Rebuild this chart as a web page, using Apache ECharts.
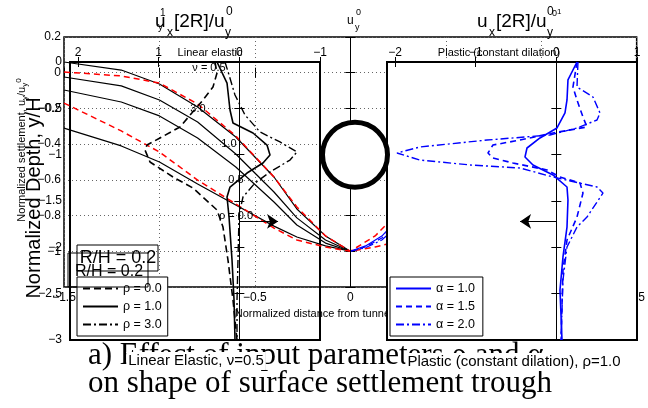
<!DOCTYPE html>
<html>
<head>
<meta charset="utf-8">
<script src="https://cdn.jsdelivr.net/npm/echarts@6/dist/echarts.min.js"></script>
<style>
  html, body { margin: 0; padding: 0; background: #fff; }
  #main { width: 648px; height: 408px; }
</style>
</head>
<body>
<div id="main"></div>
<script>
// ---------- Surface settlement troughs (normalized settlement vs x/H) ----------
const troughX = [-1.5, -1.2, -1.0, -0.8, -0.6, -0.4, -0.28, -0.13, 0];
const troughRho30 = [0.06, 0.015, -0.063, -0.192, -0.360, -0.584, -0.763, -0.914, -1.0];
const troughRho10 = [-0.024, -0.074, -0.153, -0.276, -0.455, -0.668, -0.813, -0.937, -1.0];
const troughRho05 = [-0.097, -0.164, -0.242, -0.366, -0.528, -0.724, -0.853, -0.954, -1.0];
const troughRho00 = [-0.310, -0.410, -0.500, -0.623, -0.741, -0.859, -0.920, -0.970, -1.0];

const redX = [-1.5, -1.2, -1.0, -0.8, -0.6, -0.4, -0.28, -0.13, 0, 0.13, 0.28, 0.4, 0.6, 0.8, 1.0, 1.2, 1.5];
const redUpper = [0.004, -0.018, -0.058, -0.175, -0.354, -0.584, -0.752, -0.914, -1.0, -0.914, -0.752, -0.584, -0.354, -0.175, -0.058, -0.018, 0.004];
const redLower = [-0.170, -0.326, -0.444, -0.601, -0.735, -0.870, -0.937, -0.976, -1.0, -0.976, -0.937, -0.870, -0.735, -0.601, -0.444, -0.326, -0.170];

const blueX = [0, 0.08, 0.165, 0.4, 0.6, 0.8, 1.0, 1.2, 1.5];
const blueA10 = [-1.0, -0.97, -0.915, -0.65, -0.42, -0.24, -0.12, -0.05, -0.01];
const blueA15 = [-1.0, -0.975, -0.926, -0.68, -0.45, -0.27, -0.14, -0.06, -0.02];
const blueA20 = [-1.0, -0.98, -0.937, -0.71, -0.48, -0.30, -0.16, -0.08, -0.03];

// ---------- Linear elastic: horizontal displacement profiles at x = 2R ----------
const elasticDepthRho0 = [0, -0.119, -0.270, -0.410, -0.701, -0.820, -0.896, -0.950, -1.079, -1.241, -1.360, -1.597, -1.781, -2.137, -2.568, -3.0];
const elasticUxRho0 = [0.302, 0.277, 0.327, 0.451, 0.736, 0.984, 1.145, 1.170, 1.108, 0.823, 0.575, 0.277, 0.203, 0.141, 0.079, 0.029];
const elasticDepthRho1 = [0, -0.227, -0.518, -0.658, -0.766, -0.896, -1.004, -1.090, -1.198, -1.349, -1.457, -1.673, -2.137, -2.568, -3.0];
const elasticUxRho1 = [0.277, 0.153, 0.116, 0.079, -0.169, -0.343, -0.380, -0.293, -0.095, 0.116, 0.153, 0.128, 0.091, 0.066, 0.054];
const elasticDepthRho3 = [0, -0.140, -0.356, -0.572, -0.755, -0.863, -0.971, -1.058, -1.187, -1.306, -1.457, -1.651, -2.137, -2.568, -3.0];
const elasticUxRho3 = [0.178, 0.128, 0.054, -0.070, -0.256, -0.504, -0.715, -0.628, -0.380, -0.194, -0.045, 0.004, 0.017, 0.029, 0.029];

// ---------- Plastic (constant dilation): horizontal displacement profiles ----------
const plasticDepthA10 = [0, -0.194, -0.410, -0.550, -0.712, -0.820, -0.928, -1.025, -1.111, -1.219, -1.349, -1.489, -1.781, -2.104, -2.460, -3.0];
const plasticUxA10 = [0.256, 0.144, 0.132, 0.107, 0.008, -0.203, -0.364, -0.389, -0.290, -0.042, 0.132, 0.144, 0.132, 0.082, 0.045, 0.070];
const plasticDepthA15 = [0, -0.270, -0.410, -0.594, -0.701, -0.766, -0.842, -0.896, -0.982, -1.036, -1.090, -1.165, -1.241, -1.306, -1.414, -1.673, -1.921, -2.245, -3.0];
const plasticUxA15 = [0.256, 0.206, 0.256, 0.330, 0.380, -0.042, -0.451, -0.786, -0.848, -0.786, -0.538, -0.116, 0.045, 0.293, 0.330, 0.256, 0.132, 0.082, 0.058];
const plasticDepthA20 = [0, -0.270, -0.378, -0.550, -0.626, -0.712, -0.788, -0.842, -0.917, -0.982, -1.058, -1.111, -1.144, -1.241, -1.349, -1.414, -1.673, -1.781, -1.996, -2.353, -3.0];
const plasticUxA20 = [0.268, 0.256, 0.454, 0.541, 0.504, 0.256, -0.079, -0.860, -1.691, -1.976, -1.691, -1.071, -0.451, -0.042, 0.504, 0.578, 0.380, 0.256, 0.132, 0.082, 0.058];

// Direction arrows (depth, tip displacement) and tunnel centre depth
const arrowDepth = -1.72;
const arrowTipElastic = -0.48;
const arrowTipPlastic = -0.45;
const tunnelCentre = [0, -1];

// Tick labels for the displacement axes
const elasticTicks = [-1, 0, 1, 2];
const plasticTicks = [-2, -1, 0, 1];

const FONT = '"Liberation Sans", Arial, Helvetica, sans-serif';
const SERIF = '"Liberation Serif", "Times New Roman", serif';

const zip = (xs, ys) => xs.map((x, i) => [x, ys[i]]);
const fmt = v => {
  const s = String(parseFloat(Number(v).toFixed(2)));
  return s.replace('-', '\u2212');
};

const DOT = { color: '#666', width: 1, type: [1, 3] };
const DASH = [6, 4];
const DASHDOT = [8, 3, 2, 3];

function line(name, data, xi, yi, color, type, width, z) {
  return {
    type: 'line', name, data, xAxisIndex: xi, yAxisIndex: yi,
    symbol: 'none', showSymbol: false, smooth: false, z,
    lineStyle: { color, type, width },
    itemStyle: { color },
    emphasis: { disabled: true }
  };
}

const tickOnly = (extra) => Object.assign({
  axisLine: { show: false },
  axisLabel: { show: false },
  axisTick: { show: true, inside: true, length: 5, lineStyle: { color: '#000' } },
  splitLine: { show: false }
}, extra);

// plain text element; opts may carry style overrides and element props (z, rotation)
function txt(text, x, y, size, opts) {
  const o = opts || {};
  const style = Object.assign({
    text, fontSize: size, fontFamily: FONT, fill: '#000',
    align: 'left', verticalAlign: 'middle', textAlign: 'left', textVerticalAlign: 'middle'
  }, o.style || {});
  const el = { type: 'text', x, y, z: 30, silent: true, style };
  Object.keys(o).forEach(k => { if (k !== 'style') el[k] = o[k]; });
  return el;
}
function ctxt(text, x, y, size, opts) {
  const o = Object.assign({}, opts || {});
  o.style = Object.assign({ align: 'center', textAlign: 'center' }, o.style || {});
  return txt(text, x, y, size, o);
}

const chart = echarts.init(document.getElementById('main'), null, { renderer: 'canvas' });

const legendBase = {
  orient: 'vertical', top: 277,
  itemWidth: 35, itemHeight: 12, itemGap: 5,
  backgroundColor: '#fff', borderColor: '#000', borderWidth: 1, borderRadius: 0,
  selectedMode: false, z: 20,
  itemStyle: { opacity: 0 },
  textStyle: { fontSize: 12.5, color: '#000', fontFamily: FONT }
};

const option = {
  animation: false,
  backgroundColor: '#fff',
  textStyle: { fontFamily: FONT },
  grid: [
    // 0: settlement trough
    { left: 64, top: 37, width: 582, height: 250, show: true, borderColor: '#000', borderWidth: 1.5, backgroundColor: 'transparent', z: 0 },
    // 1: linear elastic profile
    { left: 70, top: 62, width: 250, height: 278, show: true, borderColor: '#000', borderWidth: 2, backgroundColor: 'transparent', z: 1 },
    // 2: plastic profile (opaque panel)
    { left: 387, top: 62, width: 250, height: 278, show: true, borderColor: '#000', borderWidth: 2, backgroundColor: '#fff', z: 3 },
    // 3: tunnel cross-section
    { left: 320, top: 62, width: 70, height: 278, show: false, z: 4 }
  ],
  xAxis: [
    { type: 'value', gridIndex: 0, min: -1.5, max: 1.5, interval: 0.5, position: 'bottom', z: 0,
      axisLine: { show: false },
      axisTick: { show: true, inside: true, length: 5, lineStyle: { color: '#000' } },
      axisLabel: { show: true, margin: 5, fontSize: 12, color: '#000', fontFamily: FONT, formatter: fmt },
      splitLine: { show: true, lineStyle: DOT },
      name: 'Normalized distance from tunnel centerline, x/H', nameLocation: 'middle', nameGap: 19,
      nameTextStyle: { fontSize: 11, color: '#000', fontFamily: FONT } },
    tickOnly({ type: 'value', gridIndex: 0, min: -1.5, max: 1.5, interval: 0.5, position: 'top', z: 0 }),
    { type: 'value', gridIndex: 1, min: -1, max: 2.1, interval: 1, inverse: true, position: 'top', z: 2,
      axisLine: { show: false },
      axisTick: { show: true, inside: true, length: 5, lineStyle: { color: '#000' }, customValues: elasticTicks },
      axisLabel: { show: true, margin: 3, fontSize: 12, color: '#000', fontFamily: FONT, formatter: fmt, customValues: elasticTicks },
      splitLine: { show: false } },
    tickOnly({ type: 'value', gridIndex: 1, min: -1, max: 2.1, inverse: true, position: 'bottom', z: 2,
      axisTick: { show: true, inside: true, length: 5, lineStyle: { color: '#000' }, customValues: elasticTicks } }),
    { type: 'value', gridIndex: 2, min: -2.1, max: 1, position: 'top', z: 4,
      axisLine: { show: false },
      axisTick: { show: true, inside: true, length: 5, lineStyle: { color: '#000' }, customValues: plasticTicks },
      axisLabel: { show: true, margin: 3, fontSize: 12, color: '#000', fontFamily: FONT, formatter: fmt, customValues: plasticTicks },
      splitLine: { show: false } },
    tickOnly({ type: 'value', gridIndex: 2, min: -2.1, max: 1, position: 'bottom', z: 4,
      axisTick: { show: true, inside: true, length: 5, lineStyle: { color: '#000' }, customValues: plasticTicks } }),
    { type: 'value', gridIndex: 3, min: -1, max: 1, show: false }
  ],
  yAxis: [
    { type: 'value', gridIndex: 0, min: -1.2, max: 0.2, interval: 0.2, position: 'left', z: 0,
      axisLine: { show: false },
      axisTick: { show: true, inside: true, length: 5, lineStyle: { color: '#000' } },
      axisLabel: { show: true, margin: 3, fontSize: 12, color: '#000', fontFamily: FONT,
        formatter: v => (Math.abs(v + 1.2) < 1e-6 ? '' : fmt(v)) },
      splitLine: { show: true, lineStyle: DOT } },
    tickOnly({ type: 'value', gridIndex: 0, min: -1.2, max: 0.2, interval: 0.2, position: 'right', z: 0 }),
    { type: 'value', gridIndex: 1, min: -3, max: 0, interval: 0.5, position: 'left', z: 2,
      axisLine: { show: false },
      axisTick: { show: true, inside: true, length: 5, lineStyle: { color: '#000' } },
      axisLabel: { show: true, margin: 8, fontSize: 12, color: '#000', fontFamily: FONT, formatter: fmt },
      splitLine: { show: false } },
    tickOnly({ type: 'value', gridIndex: 1, min: -3, max: 0, interval: 0.5, position: 'right', z: 2 }),
    tickOnly({ type: 'value', gridIndex: 2, min: -3, max: 0, interval: 0.5, position: 'left', z: 4 }),
    tickOnly({ type: 'value', gridIndex: 2, min: -3, max: 0, interval: 0.5, position: 'right', z: 4 }),
    { type: 'value', gridIndex: 3, min: -3, max: 0, show: false }
  ],
  legend: [
    Object.assign({}, legendBase, { data: ['ρ = 0.0', 'ρ = 1.0', 'ρ = 3.0'], left: 77, padding: [5, 6, 5, 5] }),
    Object.assign({}, legendBase, { data: ['α = 1.0', 'α = 1.5', 'α = 2.0'], left: 390, padding: [5, 8, 5, 5] })
  ],
  series: [
    // settlement troughs
    Object.assign(line('trough 3.0', zip(troughX, troughRho30), 0, 0, '#000', 'solid', 1.2, 1), {
      markLine: { silent: true, symbol: 'none', label: { show: false },
        lineStyle: { color: '#000', type: 'solid', width: 1 }, data: [{ xAxis: 0 }] } }),
    line('trough 1.0', zip(troughX, troughRho10), 0, 0, '#000', 'solid', 1.2, 1),
    line('trough 0.5', zip(troughX, troughRho05), 0, 0, '#000', 'solid', 1.2, 1),
    line('trough 0.0', zip(troughX, troughRho00), 0, 0, '#000', 'solid', 1.2, 1),
    line('reference upper', zip(redX, redUpper), 0, 0, '#ff0000', DASH, 1.5, 1),
    line('reference lower', zip(redX, redLower), 0, 0, '#ff0000', DASH, 1.5, 1),
    line('trough α 1.0', zip(blueX, blueA10), 0, 0, '#0000ff', 'solid', 1.2, 1),
    line('trough α 1.5', zip(blueX, blueA15), 0, 0, '#0000ff', DASH, 1.2, 1),
    line('trough α 2.0', zip(blueX, blueA20), 0, 0, '#0000ff', DASHDOT, 1.2, 1),

    // linear elastic profiles
    Object.assign(line('ρ = 0.0', zip(elasticUxRho0, elasticDepthRho0), 2, 2, '#000', [7, 4], 1.6, 2), {
      markLine: { silent: true, symbol: 'none', label: { show: false },
        lineStyle: { color: '#000', type: 'solid', width: 1 }, data: [{ xAxis: 0 }] } }),
    line('ρ = 1.0', zip(elasticUxRho1, elasticDepthRho1), 2, 2, '#000', 'solid', 1.6, 2),
    line('ρ = 3.0', zip(elasticUxRho3, elasticDepthRho3), 2, 2, '#000', DASHDOT, 1.4, 2),
    { type: 'lines', coordinateSystem: 'cartesian2d', xAxisIndex: 2, yAxisIndex: 2, z: 2,
      symbol: ['none', 'arrow'], symbolSize: 11, silent: true,
      lineStyle: { color: '#000', width: 1, opacity: 1, curveness: 0 },
      data: [{ coords: [[0, arrowDepth], [arrowTipElastic, arrowDepth]] }] },

    // plastic profiles
    Object.assign(line('α = 1.0', zip(plasticUxA10, plasticDepthA10), 4, 4, '#0000ff', 'solid', 1.6, 5), {
      markLine: { silent: true, symbol: 'none', label: { show: false },
        lineStyle: { color: '#000', type: 'solid', width: 1 }, data: [{ xAxis: 0 }] } }),
    line('α = 1.5', zip(plasticUxA15, plasticDepthA15), 4, 4, '#0000ff', DASH, 1.6, 5),
    line('α = 2.0', zip(plasticUxA20, plasticDepthA20), 4, 4, '#0000ff', DASHDOT, 1.4, 5),
    { type: 'lines', coordinateSystem: 'cartesian2d', xAxisIndex: 4, yAxisIndex: 4, z: 5,
      symbol: ['none', 'arrow'], symbolSize: 11, silent: true,
      lineStyle: { color: '#000', width: 1, opacity: 1, curveness: 0 },
      data: [{ coords: [[0, arrowDepth], [arrowTipPlastic, arrowDepth]] }] },

    // tunnel
    { type: 'scatter', xAxisIndex: 6, yAxisIndex: 6, z: 6, silent: true,
      symbol: 'circle', symbolSize: 65, data: [tunnelCentre],
      itemStyle: { color: '#fff', borderColor: '#000', borderWidth: 5, opacity: 1 } }
  ],
  graphic: [
    // caption, partly tucked under the panels
    txt('a) Effect of input parameters ρ and α', 88, 356, 31, { z: -2, style: { fontFamily: SERIF } }),
    txt('on shape of surface settlement trough', 88, 384, 31, { z: -2, style: { fontFamily: SERIF } }),
    { type: 'rect', z: -1, silent: true, shape: { x: 60, y: 318, width: 590, height: 23 },
      style: { fill: '#fff', stroke: 'none' } },

    // axis titles
    ctxt('Normalized Depth, y/H', 34, 198, 20, { rotation: Math.PI / 2 }),
    ctxt('Normalized settlement, u{s|y}/u{s|y}{p|0}', 22, 150, 11, {
      rotation: Math.PI / 2,
      style: { rich: {
        s: { fontSize: 8, fontFamily: FONT, fill: '#000', verticalAlign: 'bottom', lineHeight: 14 },
        p: { fontSize: 8, fontFamily: FONT, fill: '#000', verticalAlign: 'top', lineHeight: 14 } } } }),

    // top displacement labels
    txt('u', 155, 22, 19), txt('x', 167, 33, 12), txt('[2R]/u', 174, 22, 19), txt('y', 225, 33, 12), txt('0', 226, 12, 12),
    txt('1', 160, 13, 10), txt('y', 158, 27, 10),
    txt('u', 477, 22, 19), txt('x', 489, 33, 12), txt('[2R]/u', 496, 22, 19), txt('y', 547, 33, 12), txt('0', 547, 12, 12),
    txt('0', 552, 14, 9), txt('1', 557, 12, 8),
    txt('u', 347, 21, 12), txt('0', 356, 13, 9), txt('y', 355, 28, 9),

    // panel titles
    ctxt('Linear elastic', 210, 53, 11),
    ctxt('Plastic (constant dilation)', 499, 53, 11),
    ctxt('Linear Elastic, ν=0.5', 196, 361, 15, { style: { backgroundColor: '#fff', padding: [1, 2, 2, 2] } }),
    ctxt('Plastic (constant dilation), ρ=1.0', 514, 362, 15, { style: { backgroundColor: '#fff', padding: [1, 2, 2, 2] } }),

    // curve annotations
    ctxt('ν = 0.5', 209, 68, 11),
    ctxt('3.0', 198, 109, 11),
    ctxt('1.0', 229, 144, 11),
    ctxt('0.5', 236, 180, 11),
    ctxt('ρ = 0.0', 236, 216, 11),

    // R/H boxes
    { type: 'rect', z: 25, silent: true, shape: { x: 68, y: 253, width: 80, height: 34 },
      style: { fill: 'none', stroke: '#000', lineWidth: 1 } },
    { type: 'rect', z: 25, silent: true, shape: { x: 77, y: 245, width: 81, height: 26 },
      style: { fill: 'none', stroke: '#000', lineWidth: 1 } },
    ctxt('R/H = 0.2', 118, 258, 18),
    txt('R/H = 0.2', 75, 272, 16)
  ]
};

chart.setOption(option);
</script>
</body>
</html>
